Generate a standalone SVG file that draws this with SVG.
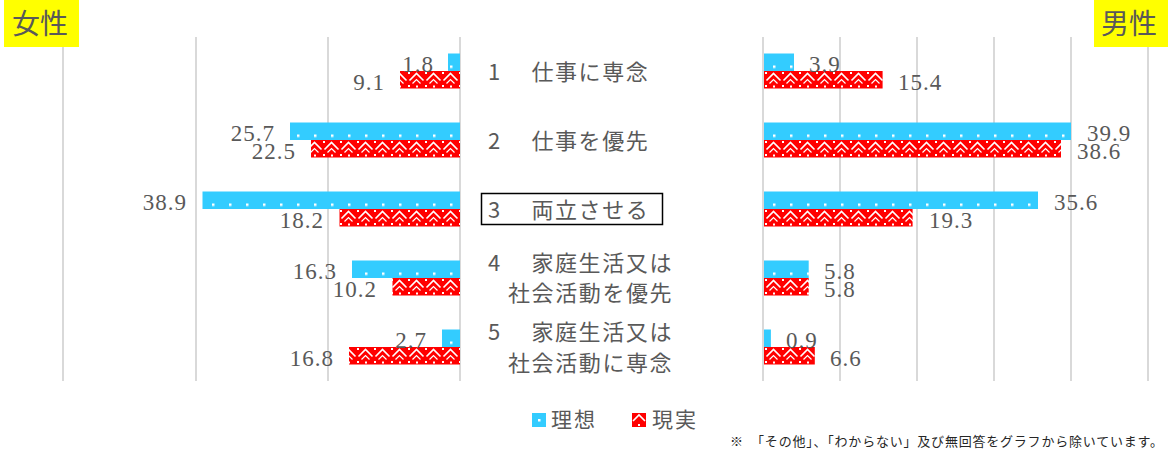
<svg xmlns="http://www.w3.org/2000/svg" width="1171" height="453" viewBox="0 0 1171 453">
<defs>
<pattern id="pBlue" patternUnits="userSpaceOnUse" x="0" y="53.5" width="17" height="69">
<rect width="17" height="69" fill="#33CCFF"/>
<rect x="8" y="12" width="2.5" height="2.5" fill="#fff"/>
</pattern>
<pattern id="pRed" patternUnits="userSpaceOnUse" x="0" y="71" width="17" height="69">
<rect width="17" height="69" fill="#FF0000"/>
<path d="M1.5,9.5 L8.5,2.5 L15.5,9.5" fill="none" stroke="#fff" stroke-width="1.6"/>
<path d="M4.5,12.5 L8.5,8.5 L12.5,12.5" fill="none" stroke="#fff" stroke-width="1.2"/>
<rect x="0" y="1" width="2" height="2" fill="#fff"/>
<rect x="0" y="14" width="2" height="2" fill="#fff"/>
<rect x="8" y="14.5" width="2" height="2" fill="#fff"/>
</pattern>
<pattern id="pLegB" patternUnits="userSpaceOnUse" x="532" y="413" width="14" height="14">
<rect width="14" height="14" fill="#33CCFF"/>
<rect x="6" y="6" width="2.5" height="2.5" fill="#fff"/>
</pattern>
<pattern id="pLegR" patternUnits="userSpaceOnUse" x="632" y="413" width="14" height="14">
<rect width="14" height="14" fill="#FF0000"/>
<path d="M1,8 L7,2 L13,8" fill="none" stroke="#fff" stroke-width="1.6"/>
<rect x="6" y="11" width="2" height="2" fill="#fff"/>
</pattern>
</defs>
<style>
.grid{stroke:#d9d9d9;stroke-width:2}
.num{font-family:"Liberation Serif","DejaVu Serif",serif;font-size:23px;fill:#595959;letter-spacing:1px}
.l{text-anchor:end}
.jp{font-family:"Noto Sans CJK JP",sans-serif;font-size:22px;fill:#595959;letter-spacing:1.6px}
.ttl{font-family:"Noto Sans CJK JP",sans-serif;font-size:28px;fill:#595959}
.leg{font-family:"Noto Sans CJK JP",sans-serif;font-size:21px;fill:#595959;letter-spacing:2px}
.note{font-family:"Noto Sans CJK JP",sans-serif;font-size:13px;fill:#262626}
.b{fill:url(#pBlue)}
.r{fill:url(#pRed)}
</style>
<rect width="1171" height="453" fill="#fff"/>
<g id="grid">
<line class="grid" x1="63" y1="37" x2="63" y2="381"/>
<line class="grid" x1="196" y1="37" x2="196" y2="381"/>
<line class="grid" x1="328" y1="37" x2="328" y2="381"/>
<line class="grid" x1="460" y1="37" x2="460" y2="381"/>
<line class="grid" x1="763" y1="37" x2="763" y2="381"/>
<line class="grid" x1="840" y1="37" x2="840" y2="381"/>
<line class="grid" x1="917" y1="37" x2="917" y2="381"/>
<line class="grid" x1="994" y1="37" x2="994" y2="381"/>
<line class="grid" x1="1071" y1="37" x2="1071" y2="381"/>
<line class="grid" x1="1148" y1="37" x2="1148" y2="381"/>
</g>
<g id="title-female">
<rect x="4" y="0" width="75" height="47" fill="#FFFF00"/>
<text class="ttl" x="12" y="34">女性</text>
</g>
<g id="title-male">
<rect x="1094" y="0" width="74" height="47" fill="#FFFF00"/>
<text class="ttl" x="1101" y="34">男性</text>
</g>
<g id="bars-female">
<rect class="b" x="448" y="53.5" width="12" height="17.5"/>
<rect class="r" x="400" y="71" width="60" height="17.5"/>
<rect class="b" x="290" y="122.5" width="170" height="17.5"/>
<rect class="r" x="311" y="140" width="149" height="17.5"/>
<rect class="b" x="202.5" y="191.5" width="257.5" height="17.5"/>
<rect class="r" x="339.5" y="209" width="120.5" height="17.5"/>
<rect class="b" x="352" y="260.5" width="108" height="17.5"/>
<rect class="r" x="392.5" y="278" width="67.5" height="17.5"/>
<rect class="b" x="442" y="329.5" width="18" height="17.5"/>
<rect class="r" x="349" y="347" width="111" height="17.5"/>
<text class="num l" x="434" y="72">1.8</text>
<text class="num l" x="385" y="90">9.1</text>
<text class="num l" x="275" y="141">25.7</text>
<text class="num l" x="296" y="159">22.5</text>
<text class="num l" x="187" y="210">38.9</text>
<text class="num l" x="324" y="228">18.2</text>
<text class="num l" x="337" y="279">16.3</text>
<text class="num l" x="377" y="297">10.2</text>
<text class="num l" x="427" y="348">2.7</text>
<text class="num l" x="334" y="366">16.8</text>
</g>
<g id="bars-male">
<rect class="b" x="764" y="53.5" width="30" height="17.5"/>
<rect class="r" x="764" y="71" width="118.6" height="17.5"/>
<rect class="b" x="764" y="122.5" width="307" height="17.5"/>
<rect class="r" x="764" y="140" width="297" height="17.5"/>
<rect class="b" x="764" y="191.5" width="274" height="17.5"/>
<rect class="r" x="764" y="209" width="148.6" height="17.5"/>
<rect class="b" x="764" y="260.5" width="44.7" height="17.5"/>
<rect class="r" x="764" y="278" width="44.7" height="17.5"/>
<rect class="b" x="764" y="329.5" width="6.9" height="17.5"/>
<rect class="r" x="764" y="347" width="50.8" height="17.5"/>
<text class="num" x="809" y="72">3.9</text>
<text class="num" x="898" y="90">15.4</text>
<text class="num" x="1087" y="141">39.9</text>
<text class="num" x="1077" y="159">38.6</text>
<text class="num" x="1054" y="210">35.6</text>
<text class="num" x="929" y="228">19.3</text>
<text class="num" x="824" y="279">5.8</text>
<text class="num" x="824" y="297">5.8</text>
<text class="num" x="786" y="348">0.9</text>
<text class="num" x="830" y="366">6.6</text>
</g>
<g id="cat1">
<text class="jp" x="488" y="80">1　<tspan dx="6">仕事に専念</tspan></text>
</g>
<g id="cat2">
<text class="jp" x="488" y="149">2　<tspan dx="6">仕事を優先</tspan></text>
</g>
<g id="cat3">
<rect x="481.5" y="193.5" width="181" height="31" fill="none" stroke="#000" stroke-width="1.5"/>
<text class="jp" x="488" y="218">3　<tspan dx="6">両立させる</tspan></text>
</g>
<g id="cat4">
<text class="jp" x="488" y="271">4　<tspan dx="6">家庭生活又は</tspan></text>
<text class="jp" x="508" y="301">社会活動を優先</text>
</g>
<g id="cat5">
<text class="jp" x="488" y="340">5　<tspan dx="6">家庭生活又は</tspan></text>
<text class="jp" x="508" y="371">社会活動に専念</text>
</g>
<g id="legend">
<rect x="532" y="413" width="14" height="14" fill="url(#pLegB)"/>
<text class="leg" x="551" y="427">理想</text>
<rect x="632" y="413" width="14" height="14" fill="url(#pLegR)"/>
<text class="leg" x="652" y="427">現実</text>
</g>
<g id="note">
<text class="note" x="730" y="446" textLength="433" lengthAdjust="spacing">※　「その他」、「わからない」及び無回答をグラフから除いています。</text>
</g>
</svg>
